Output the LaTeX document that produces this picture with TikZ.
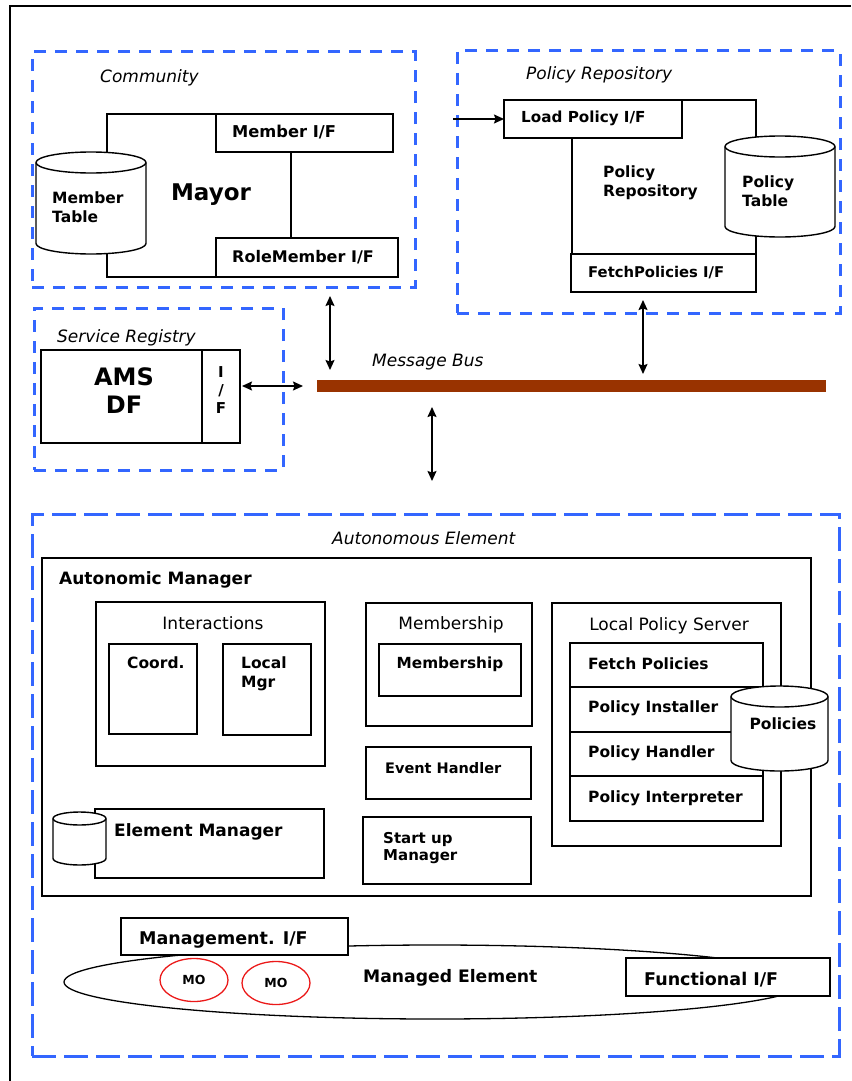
\documentclass[tikz,border=0pt]{standalone}
\usepackage{fontspec}
\setmainfont{DejaVu Sans}
\usetikzlibrary{arrows.meta,shapes.geometric}

\definecolor{dashblue}{RGB}{51,102,255}
\definecolor{busbrown}{RGB}{153,51,0}
\definecolor{mored}{RGB}{235,25,25}

% rectangle node from its two corners: [style]{name}{x1}{y1}{x2}{y2}
\newcommand\mkbox[6][box]{%
  \node[#1,minimum width={#5-#3},minimum height={#6-#4}] (#2) at ({(#3+#5)/2},{(#4+#6)/2}) {};}

% upright cylinder: {name}{x1}{y1}{x2}{y2}{cap radius}
\newcommand\mkcyl[6]{%
  \pgfmathsetmacro\cylrx{(#4-#2)/2}%
  \filldraw[box] (#2,{#3+#6}) -- (#2,{#5-#6})
    arc[start angle=180,end angle=360,x radius=\cylrx pt,y radius=#6 pt]
    -- (#4,{#3+#6})
    arc[start angle=0,end angle=180,x radius=\cylrx pt,y radius=#6 pt] -- cycle;
  \draw[line width=1.4pt] (#2,{#3+#6})
    arc[start angle=180,end angle=360,x radius=\cylrx pt,y radius=#6 pt];
  \coordinate (#1) at ({(#2+#4)/2},{(#3+#5)/2});}

\newcommand\bsz[2]{\fontsize{#1}{#2}\selectfont\bfseries}

\begin{document}
\begin{tikzpicture}[x=1pt,y=-1pt,
  box/.style={draw=black,fill=white,line width=1.4pt,inner sep=0pt,outer sep=0pt},
  group/.style={draw=dashblue,line width=3pt,dash pattern=on 12pt off 9pt,inner sep=0pt,outer sep=0pt},
  biggroup/.style={group,dash pattern=on 24pt off 8pt},
  busbar/.style={fill=busbrown,inner sep=0pt,outer sep=0pt},
  frame/.style={line width=2.2pt},
  lbl/.style={inner sep=0pt,anchor=west,align=left,font=\bsz{15.5}{19}},
  title/.style={inner sep=0pt,anchor=west,font=\fontsize{17}{20}\selectfont\itshape},
  plain/.style={inner sep=0pt,font=\fontsize{17}{20}\selectfont},
  tip/.style={Stealth[length=10pt,width=9pt,inset=1.5pt]},
  dbl/.style={{Stealth[length=10pt,width=9pt,inset=1.5pt]}-{Stealth[length=10pt,width=9pt,inset=1.5pt]},line width=1.5pt},
  arr/.style={-{Stealth[length=10pt,width=9pt,inset=1.5pt]},line width=1.5pt},
  mo/.style={draw=mored,ellipse,line width=1.3pt,inner sep=0pt,minimum width=68pt,minimum height=43pt,font=\bsz{12.5}{14}}]

\useasboundingbox (0,0) rectangle (851,1081);

% outer frame
\draw[frame] (10,1081) -- (10,6) -- (851,6);

% dashed groups
\mkbox[group]{comm}{32}{52}{415}{287}
\mkbox[group]{prepo}{457}{51}{840}{313}
\mkbox[group]{sreg}{34}{308}{283}{470}
\mkbox[biggroup]{ae}{32}{514}{839}{1056}

% Community
\mkbox{mayor}{107}{114}{291}{277}
\mkbox{memberif}{216}{114}{393}{152}
\mkbox{roleif}{216}{238}{398}{277}
\mkcyl{mtable}{36}{152}{146}{254}{10.5}
\node[inner sep=0pt,anchor=west,font=\fontsize{17}{20}\selectfont\itshape] (commt) at (100,78) {Community};
\node[inner sep=0pt,font=\bsz{23}{26}] (mayort) at (211,195) {Mayor};
\node[lbl,font=\bsz{16.3}{19}] at (232,132) {Member I/F};
\node[lbl,font=\bsz{16}{19}] at (232,257) {RoleMember I/F};
\node[lbl] at (52,207) {Member\\Table};

% Policy Repository
\mkbox{reposrv}{572}{100}{756}{292}
\mkbox{loadif}{504}{100}{682}{138}
\mkbox{fetchif}{571}{254}{756}{292}
\mkcyl{ptable}{725}{136}{835}{237}{10.5}
\node[title] at (526,75) {Policy Repository};
\node[lbl,font=\bsz{15.2}{19}] at (521,118) {Load Policy I/F};
\node[lbl,font=\bsz{14.8}{19}] at (588,273) {FetchPolicies I/F};
\node[lbl] at (603,183) {Policy\\Repository};
\node[lbl] at (742,191) {Policy\\Table};

% Service Registry
\mkbox{ams}{41}{350}{202}{443}
\mkbox{amsif}{202}{350}{240}{443}
\node[title] at (57,338) {Service Registry};
\node[inner sep=0pt,align=center,font=\bsz{24}{28}] at (124,391) {AMS\\DF};
\node[inner sep=0pt,align=center,font=\bsz{15}{18}] at (221,390) {I\\/\\F};

% Message bus
\mkbox[busbar]{bus}{317}{380}{826}{392}
\node[title] at (372,362) {Message Bus};

% bus connections
\coordinate (xc) at (330,0);
\coordinate (xp) at (643,0);
\coordinate (xb) at (432,0);
\coordinate (lpsrc) at (453,119);
\draw[dbl,shorten <=9pt,shorten >=10pt] (comm.south -| xc) -- (bus.north -| xc);
\draw[dbl,shorten <=8pt,shorten >=6pt] (fetchif.south -| xp) -- (bus.north -| xp);
\draw[dbl,shorten <=2pt,shorten >=14pt] (amsif.east |- bus.west) -- (bus.west);
\draw[dbl,shorten <=15pt,shorten >=33pt] (bus.south -| xb) -- (ae.north -| xb);
\draw[arr] (lpsrc) -- (loadif.west);

% Autonomous Element
\node[title] at (332,538) {Autonomous Element};
\mkbox{am}{42}{558}{811}{896}
\node[lbl,font=\bsz{17}{20}] at (59,580) {Autonomic Manager};

\mkbox{inter}{96}{602}{325}{766}
\mkbox{coord}{109}{644}{197}{734}
\mkbox{localmgr}{223}{644}{311}{735}
\node[plain] at (213,623) {Interactions};
\node[lbl] at (127,663) {Coord.};
\node[lbl] at (241,674) {Local\\Mgr};

\mkbox{memb}{366}{603}{532}{726}
\mkbox{membin}{379}{644}{521}{696}
\node[plain] at (451,625) {Membership};
\node[inner sep=0pt,font=\bsz{15.3}{19}] at (450,664) {Membership};

\mkbox{event}{366}{747}{531}{799}
\node[lbl,font=\bsz{14.5}{19}] at (385,768) {Event Handler};
\mkbox{startup}{363}{817}{531}{884}
\node[lbl,font=\bsz{15}{17}] at (383,848) {Start up\\Manager};

\mkbox{elemmgr}{95}{809}{324}{878}
\mkcyl{emdb}{53}{812}{106}{865}{6.5}
\node[lbl,font=\bsz{17}{20}] at (114,832) {Element Manager};

\mkbox{lps}{552}{603}{781}{846}
\node[plain] at (669,626) {Local Policy Server};
\mkbox{fetchp}{570}{643}{763}{687}
\mkbox{pinst}{570}{687}{763}{732}
\mkbox{phand}{570}{732}{763}{776}
\mkbox{pint}{570}{776}{763}{821}
\node[lbl] at (588,664) {Fetch Policies};
\node[lbl] at (588,708) {Policy Installer};
\node[lbl] at (588,753) {Policy Handler};
\node[lbl] at (588,798) {Policy Interpreter};
\mkcyl{policies}{731}{686}{828}{771}{10.5}
\node[inner sep=0pt,font=\bsz{15.5}{19}] at (783,724) {Policies};

% Managed element
\node[draw,ellipse,line width=1.3pt,inner sep=0pt,minimum width=742pt,minimum height=74pt] (me) at (435,982) {};
\mkbox{mgmtif}{121}{918}{348}{955}
\mkbox{funcif}{626}{958}{830}{996}
\node[lbl,font=\bsz{17.5}{20}] at (139,940) {Management. I/F};
\node[lbl,font=\bsz{17.5}{20}] at (644,980) {Functional I/F};
\node[lbl,font=\bsz{17.2}{20}] at (363,978) {Managed Element};
\node[mo] (mo1) at (194,980) {MO};
\node[mo] (mo2) at (276,983) {MO};

\end{tikzpicture}
\end{document}
